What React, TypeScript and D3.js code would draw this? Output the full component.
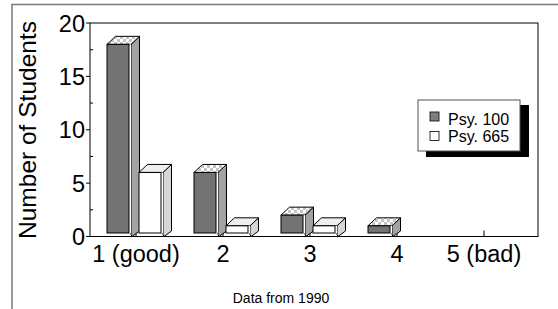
import React from "react";
import * as d3 from "d3";

const categories = ["1 (good)", "2", "3", "4", "5 (bad)"];
const psy100 = [18, 6, 2, 1, 0];
const psy665 = [6, 1, 1, 0, 0];
const yTicks = [0, 5, 10, 15, 20];
const yMinorTicks = [2.5, 7.5, 12.5, 17.5];
const seriesNames = ["Psy. 100", "Psy. 665"];
const yTitle = "Number of Students";
const footnote = "Data from 1990";

const W = 558;
const H = 309;
const FONT = "'Liberation Sans', Arial, Helvetica, sans-serif";

const plotL = 90;
const plotR = 538;
const plotT = 23;
const plotB = 236.5;

const x = d3.scalePoint<string>().domain(categories).range([136, 484]);
const y = d3.scaleLinear().domain([0, 20]).range([plotB, plotT]);

const BW = 22;
const GAP = 2;
const DX = 8.5;
const DY = 8;

type Style = { front: string; side: string; top: string };
const styles: Style[] = [
  { front: "#737373", side: "#a3a3a3", top: "url(#checker)" },
  { front: "#ffffff", side: "#d6d6d6", top: "#efefef" },
];

function Bar3D({ left, value, st }: { left: number; value: number; st: Style }) {
  if (value <= 0) return null;
  const yt = y(value);
  const y0 = y(0);
  const fb = y0 - 3.5;
  const xs = left + BW + GAP;
  const topPts = [
    [left, yt],
    [left + DX, yt - DY],
    [xs + DX, yt - DY],
    [xs, yt],
  ];
  const sidePts = [
    [xs, yt],
    [xs + DX, yt - DY],
    [xs + DX, y0 - 5.5],
    [xs + 1, y0],
    [xs, y0 - 2],
  ];
  const p = (pts: number[][]) => pts.map((q) => q.join(",")).join(" ");
  return (
    <g>
      <polygon points={p(sidePts)} fill={st.side} stroke="#000" strokeWidth={1} strokeLinejoin="round" />
      <polygon points={p(topPts)} fill={st.top} stroke="#000" strokeWidth={1} strokeLinejoin="round" />
      <rect x={left + BW} y={yt} width={GAP} height={fb - yt} fill="#fff" />
      <rect x={left} y={yt} width={BW} height={fb - yt} fill={st.front} stroke="#000" strokeWidth={1} />
    </g>
  );
}

export default function App() {
  return (
    <svg
      width={W}
      height={H}
      viewBox={`0 0 ${W} ${H}`}
      style={{ position: "absolute", left: 0, top: 0, background: "#fff" }}
      fontFamily={FONT}
    >
      <defs>
        <pattern id="checker" patternUnits="userSpaceOnUse" width={6} height={6}>
          <rect x={0} y={0} width={6} height={6} fill="#ffffff" />
          <rect x={0} y={0} width={3} height={3} fill="#c4c4c4" />
          <rect x={3} y={3} width={3} height={3} fill="#c4c4c4" />
        </pattern>
      </defs>
      <rect x={0} y={0} width={W} height={H} fill="#fff" />
      {/* outer frame */}
      <rect x={12} y={4.5} width={700} height={500} fill="none" stroke="#7a7a7a" strokeWidth={1.5} />

      {/* plot frame */}
      <rect x={plotL} y={plotT} width={plotR - plotL} height={plotB - plotT} fill="none" stroke="#000" strokeWidth={1} />

      {/* y ticks */}
      {yTicks.map((t) => (
        <g key={"yt" + t}>
          <line x1={plotL - 4} x2={plotL} y1={y(t)} y2={y(t)} stroke="#000" />
          <text x={85} y={y(t) + 8.5} textAnchor="end" fontSize={23.5} fill="#000">
            {t}
          </text>
        </g>
      ))}
      {yMinorTicks.map((t) => (
        <line key={"ym" + t} x1={plotL} x2={plotL + 3} y1={y(t)} y2={y(t)} stroke="#000" />
      ))}

      {/* x ticks */}
      {categories.map((c) => (
        <line key={"xt" + c} x1={x(c)!} x2={x(c)!} y1={plotB} y2={plotB - 6} stroke="#000" />
      ))}

      {/* bars */}
      {categories.map((c, i) => (
        <g key={"b" + c}>
          <Bar3D left={x(c)! - 29} value={psy100[i]} st={styles[0]} />
          <Bar3D left={x(c)! + 3} value={psy665[i]} st={styles[1]} />
        </g>
      ))}

      {/* x labels */}
      {categories.map((c) => (
        <text key={"xl" + c} x={x(c)!} y={262} textAnchor="middle" fontSize={23.5} fill="#000">
          {c}
        </text>
      ))}

      {/* y title */}
      <text
        transform={`translate(36, 130) rotate(-90)`}
        textAnchor="middle"
        fontSize={24.5}
        fill="#000"
      >
        {yTitle}
      </text>

      {/* footnote */}
      <text x={281} y={303} textAnchor="middle" fontSize={14} fill="#000">
        {footnote}
      </text>

      {/* legend */}
      <g>
        <rect x={426} y={105} width={103} height={52} fill="#000" />
        <rect x={418} y={100} width={102} height={51} fill="#fff" stroke="#555" strokeWidth={1} />
        {seriesNames.map((s, i) => (
          <g key={"lg" + s}>
            <rect
              x={430}
              y={112 + i * 19.5}
              width={9}
              height={9}
              fill={i === 0 ? "#808080" : "#fff"}
              stroke="#000"
              strokeWidth={0.8}
            />
            <text x={448} y={125 + i * 17} fontSize={16} fill="#000">
              {s}
            </text>
          </g>
        ))}
      </g>
    </svg>
  );
}
